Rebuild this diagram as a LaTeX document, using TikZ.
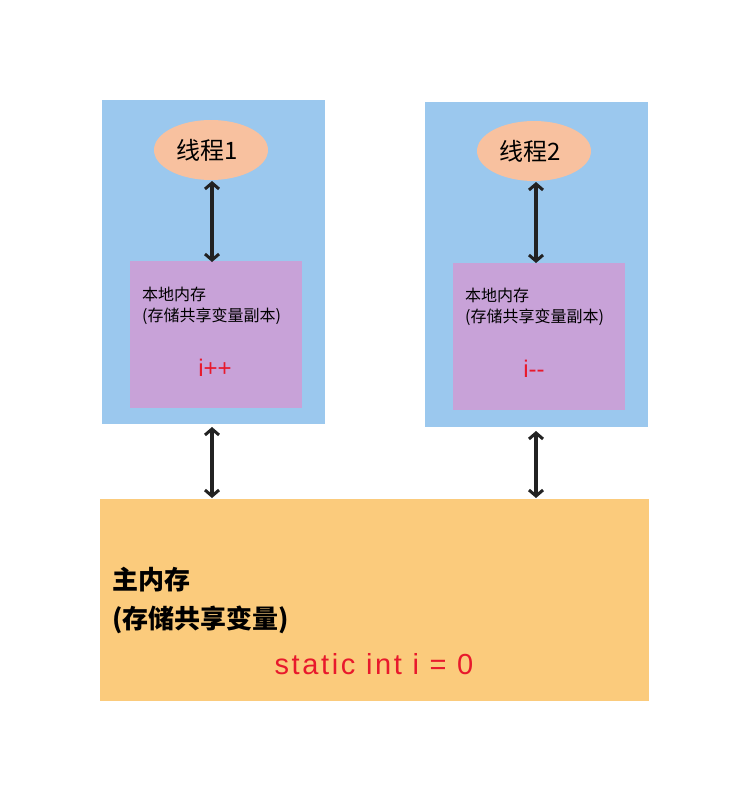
\documentclass[tikz,border=0pt]{standalone}
\usepackage{fontspec}
\setmainfont{Liberation Sans}
\newfontfamily\cjk{Noto Sans CJK SC}
\usetikzlibrary{arrows.meta,shapes.geometric}
\definecolor{bluebg}{HTML}{9BC8EE}
\definecolor{threadc}{HTML}{F8C19F}
\definecolor{localc}{HTML}{C8A2D8}
\definecolor{mainc}{HTML}{FBCB7C}
\definecolor{redt}{HTML}{E8192C}
\definecolor{arrc}{HTML}{222222}
\tikzset{
  panel/.style={fill=bluebg, draw=none, anchor=north west, inner sep=0pt},
  thread/.style={ellipse, fill=threadc, draw=none, minimum width=114pt, minimum height=60pt, inner sep=0pt, font=\cjk\fontsize{24}{26}\selectfont},
  localmem/.style={fill=localc, draw=none, anchor=north west, inner sep=0pt, minimum width=172pt, minimum height=147pt},
  mainmem/.style={fill=mainc, draw=none, anchor=north west, inner sep=0pt, minimum width=549pt, minimum height=202pt},
  dbl/.style={{Straight Barb[length=6pt,width=14pt,line width=3pt]}-{Straight Barb[length=6pt,width=14pt,line width=3pt]}, line width=3.2pt, draw=arrc},
  smalltxt/.style={font=\cjk\fontsize{16}{21}\selectfont, align=left, anchor=west, inner sep=0pt},
  bigtxt/.style={font=\cjk\bfseries\fontsize{26}{39}\selectfont, align=left, anchor=west, inner sep=0pt},
  code/.style={text=redt, inner sep=0pt}
}
\begin{document}
\begin{tikzpicture}[x=1pt,y=-1pt]
\useasboundingbox (0,0) rectangle (751,802);
\fill[white] (0,0) rectangle (751,802);
% panels
\node[panel, minimum width=223pt, minimum height=324pt] (p1) at (102,100) {};
\node[panel, minimum width=223pt, minimum height=325pt] (p2) at (425,102) {};
% threads
\node[thread] (t1) at (211,150) {\hspace*{-8pt}线程1};
\node[thread] (t2) at (534,151) {\hspace*{-8pt}线程2};
% local memories
\node[localmem] (l1) at (130,261) {};
\node[localmem] (l2) at (453,263) {};
\node[smalltxt] (l1t) at (142,306) {本地内存\\(存储共享变量副本)};
\node[smalltxt] (l2t) at (465,307) {本地内存\\(存储共享变量副本)};
\node[code, font=\fontsize{24}{28}\selectfont] (c1) at (215,368) {i++};
\node[code, font=\fontsize{24}{28}\selectfont] (c2) at (534,369) {i{-}{-}};
% main memory
\node[mainmem] (m) at (100,499) {};
\node[bigtxt] (mt) at (112,600) {主内存\\(存储共享变量)};
\node[code, font=\fontsize{29}{32}\selectfont\addfontfeatures{LetterSpace=9}] (mc) at (374,664) {static int i = 0};
% connectors
\coordinate (a1s) at (212,181);
\coordinate (a1e) at (212,262);
\coordinate (a2s) at (536,182);
\coordinate (a2e) at (536,263);
\coordinate (b1s) at (212,427);
\coordinate (b1e) at (212,498);
\coordinate (b2s) at (536,431);
\coordinate (b2e) at (536,498);
\draw[dbl] (a1s) -- (a1e);
\draw[dbl] (a2s) -- (a2e);
\draw[dbl] (b1s) -- (b1e);
\draw[dbl] (b2s) -- (b2e);
\end{tikzpicture}
\end{document}
